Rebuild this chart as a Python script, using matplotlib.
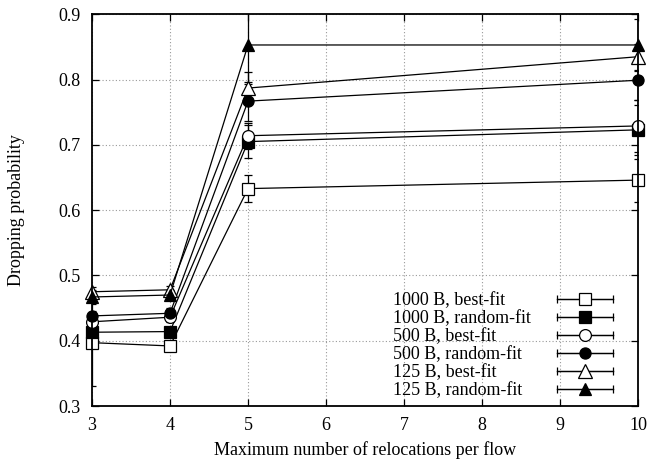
import matplotlib
matplotlib.use("Agg")
import matplotlib.pyplot as plt
from matplotlib.lines import Line2D
from matplotlib.legend_handler import HandlerLine2D, HandlerTuple
from matplotlib.ticker import FormatStrFormatter

plt.rcParams['font.family'] = ['Liberation Serif', 'DejaVu Serif']

x = [3, 4, 5, 10]
labels = ["1000 B, best-fit", "1000 B, random-fit", "500 B, best-fit",
          "500 B, random-fit", "125 B, best-fit", "125 B, random-fit"]
y_1000_best = [0.397, 0.392, 0.633, 0.646]
y_1000_rand = [0.413, 0.414, 0.705, 0.723]
y_500_best = [0.429, 0.436, 0.714, 0.729]
y_500_rand = [0.438, 0.442, 0.767, 0.799]
y_125_best = [0.475, 0.478, 0.787, 0.835]
y_125_rand = [0.467, 0.470, 0.853, 0.853]
e_1000_best = [0.067, 0.005, 0.021, 0.033]
e_1000_rand = [0.010, 0.006, 0.025, 0.038]
e_500_best = [0.010, 0.008, 0.020, 0.040]
e_500_rand = [0.008, 0.008, 0.030, 0.030]
e_125_best = [0.008, 0.006, 0.025, 0.020]
e_125_rand = [0.010, 0.008, 0.060, 0.040]

series = [y_1000_best, y_1000_rand, y_500_best, y_500_rand, y_125_best, y_125_rand]
errors = [e_1000_best, e_1000_rand, e_500_best, e_500_rand, e_125_best, e_125_rand]
markers = ['s', 's', 'o', 'o', '^', '^']
faces = ['white', 'black', 'white', 'black', 'white', 'black']
msizes = [9, 8, 8.5, 8, 10, 9]

fig = plt.figure(figsize=(6.49, 4.61), dpi=100)
ax = fig.add_axes([0.1418, 0.1193, 0.8412, 0.8497])

handles = []
hmap = {}
for ys, es, m, fc, ms in zip(series, errors, markers, faces, msizes):
    ax.errorbar(x, ys, yerr=es, fmt='none', ecolor='black', elinewidth=0.9,
                capsize=3, capthick=0.9, zorder=2)
    ax.plot(x, ys, color='black', lw=0.9, marker=m, markersize=ms,
            markerfacecolor=fc, markeredgecolor='black', markeredgewidth=0.9,
            zorder=3, clip_on=False)
    line = Line2D([], [], color='black', lw=0.9, marker=m, markersize=ms,
                  markerfacecolor=fc, markeredgecolor='black', markeredgewidth=0.9)
    caps = Line2D([], [], color='black', lw=0.9, marker='|', markersize=6,
                  markeredgewidth=0.9)
    hmap[caps] = HandlerLine2D(numpoints=2, marker_pad=0)
    handles.append((caps, line))
hmap[tuple] = HandlerTuple(ndivide=1, pad=0)

ax.set_xlim(3, 10)
ax.set_ylim(0.3, 0.9)
ax.set_xticks(range(3, 11))
ax.set_yticks([0.3, 0.4, 0.5, 0.6, 0.7, 0.8, 0.9])
ax.yaxis.set_major_formatter(FormatStrFormatter('%.1f'))
ax.grid(True, color='#999999', linestyle=(0, (1, 2)), linewidth=0.8)
ax.tick_params(direction='in', top=True, right=True, length=5, width=0.9,
               labelsize=13, pad=8)
for s in ax.spines.values():
    s.set_linewidth(1.3)
    s.set_zorder(4)

ax.set_xlabel("Maximum number of relocations per flow", fontsize=13, labelpad=5)
ax.set_ylabel("Dropping probability", fontsize=13, labelpad=24)

leg = ax.legend(handles, labels, handler_map=hmap, loc='lower right',
                bbox_to_anchor=(0.954, 0.018), markerfirst=False, frameon=False,
                fontsize=13, handlelength=3.1, handletextpad=1.0,
                labelspacing=0.05, borderaxespad=0, borderpad=0)

# left-align the legend texts (gnuplot style)
fig.canvas.draw()
renderer = fig.canvas.get_renderer()
texts = leg.get_texts()
widths = [t.get_window_extent(renderer).width * 72 / fig.dpi for t in texts]
maxw = max(widths)
col = leg._legend_handle_box.get_children()[0]
for row, w in zip(col.get_children(), widths):
    row.sep = (maxw - w) + 19

fig.savefig("out.png", dpi=100)
